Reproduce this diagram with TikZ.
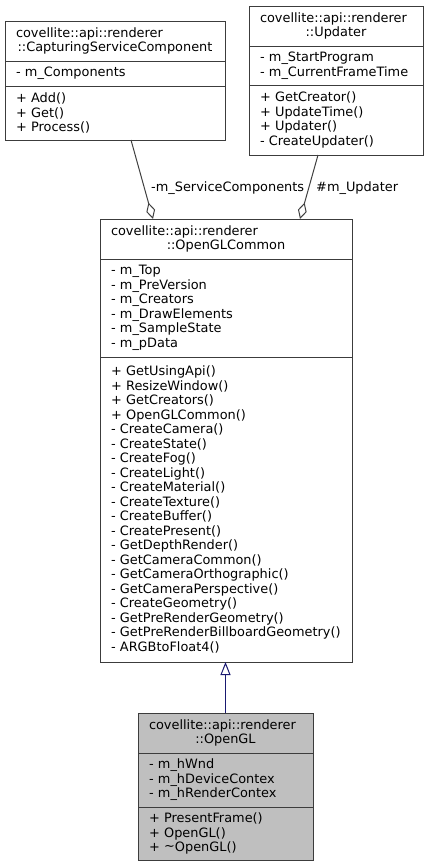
\documentclass[tikz,border=0pt]{standalone}
\usepackage{fontspec}
\setmainfont{DejaVu Sans}
\usetikzlibrary{arrows.meta}
\definecolor{boxline}{RGB}{60,60,60}
\definecolor{edgegray}{RGB}{64,64,64}
\definecolor{inhblue}{RGB}{25,25,112}
\definecolor{grayfill}{RGB}{191,191,191}
\begin{document}
\begin{tikzpicture}[x=1bp,y=-1bp,
  every node/.style={font=\fontsize{12.9bp}{14.5bp}\selectfont},
  sect/.style={draw=boxline, line width=1bp, anchor=north west, inner xsep=11bp,
    inner ysep=0pt, outer sep=0pt, minimum height=#1, fill=white},
  lft/.style={align=left},
  ctr/.style={align=center},
  agg/.style={draw=edgegray, line width=1bp, -{Diamond[open, length=17bp, width=9bp]}},
  inh/.style={draw=inhblue, line width=1bp, -{Triangle[open, length=13bp, width=10bp]}},
  elabel/.style={anchor=base west, inner sep=0pt}
]
\useasboundingbox (0,0) rectangle (429,868);

% CapturingServiceComponent
\node[sect=40bp, ctr, text width=198bp] (cscH) at (5,21)
  {\makebox[198bp][l]{covellite::api::renderer}\\::CapturingServiceComponent};
\node[sect=25bp, lft, text width=198bp] (cscA) at (cscH.south west) {- m\_Components};
\node[sect=54bp, lft, text width=198bp] (cscM) at (cscA.south west)
  {+ Add()\\+ Get()\\+ Process()};

% Updater
\node[sect=40bp, ctr, text width=152bp] (updH) at (249,6)
  {\makebox[152bp][l]{covellite::api::renderer}\\::Updater};
\node[sect=39bp, lft, text width=152bp] (updA) at (updH.south west)
  {- m\_StartProgram\\- m\_CurrentFrameTime};
\node[sect=70bp, lft, text width=152bp] (updM) at (updA.south west)
  {+ GetCreator()\\+ UpdateTime()\\+ Updater()\\- CreateUpdater()};

% OpenGLCommon
\node[sect=40bp, ctr, text width=230bp] (oglcH) at (100,219)
  {\makebox[230bp][l]{covellite::api::renderer}\\::OpenGLCommon};
\node[sect=98bp, lft, text width=230bp] (oglcA) at (oglcH.south west)
  {- m\_Top\\- m\_PreVersion\\- m\_Creators\\- m\_DrawElements\\- m\_SampleState\\- m\_pData};
\node[sect=305bp, lft, text width=230bp] (oglcM) at (oglcA.south west)
  {+ GetUsingApi()\\+ ResizeWindow()\\+ GetCreators()\\+ OpenGLCommon()\\- CreateCamera()\\- CreateState()\\- CreateFog()\\- CreateLight()\\- CreateMaterial()\\- CreateTexture()\\- CreateBuffer()\\- CreatePresent()\\- GetDepthRender()\\- GetCameraCommon()\\- GetCameraOrthographic()\\- GetCameraPerspective()\\- CreateGeometry()\\- GetPreRenderGeometry()\\- GetPreRenderBillboardGeometry()\\- ARGBtoFloat4()};

% OpenGL
\node[sect=40bp, ctr, text width=153bp, fill=grayfill] (oglH) at (138,713)
  {\makebox[153bp][l]{covellite::api::renderer}\\::OpenGL};
\node[sect=54bp, lft, text width=153bp, fill=grayfill] (oglA) at (oglH.south west)
  {- m\_hWnd\\- m\_hDeviceContex\\- m\_hRenderContex};
\node[sect=53bp, lft, text width=153bp, fill=grayfill] (oglM) at (oglA.south west)
  {+ PresentFrame()\\+ OpenGL()\\+ \raisebox{0.15ex}{\char"007E}OpenGL()};

% connectors
\draw[agg] (131,0 |- cscM.south) -- (153,0 |- oglcH.north);
\draw[agg] (318,0 |- updM.south) -- (300,0 |- oglcH.north);
\draw[inh] (oglH.north) -- (oglH.north |- oglcM.south);

% edge labels
\node[elabel] (lblSC) at (151,191) {-m\_ServiceComponents};
\node[elabel] (lblUp) at (316,191) {\#m\_Updater};
\end{tikzpicture}
\end{document}
